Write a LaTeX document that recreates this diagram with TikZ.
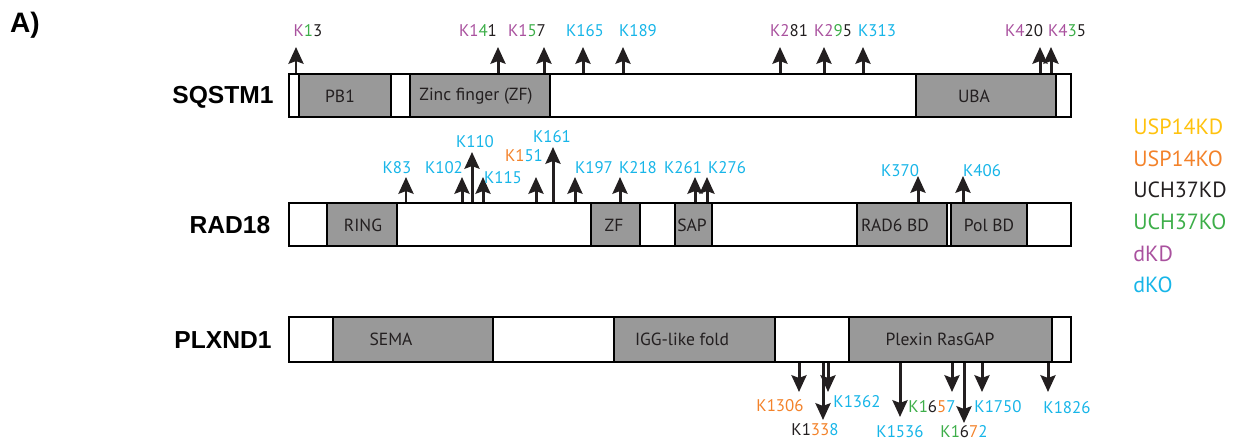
\documentclass[tikz,border=0pt]{standalone}
\usepackage{fontspec}
\setmainfont{PT Sans}
\newfontfamily\genefont{Liberation Sans}
\usepackage{tikz}
\usetikzlibrary{arrows.meta,fit}

\definecolor{ukd}{HTML}{FFC20E}
\definecolor{uko}{HTML}{F3822A}
\definecolor{ckd}{HTML}{231F20}
\definecolor{cko}{HTML}{3DAE49}
\definecolor{dkd}{HTML}{A9519E}
\definecolor{dko}{HTML}{17B5E8}
\definecolor{domgrey}{HTML}{999999}

\newcommand{\cc}[2]{\textcolor{#1}{#2}}

\begin{document}
\begin{tikzpicture}[
    x=0.02cm, y=-0.02cm,
    bar/.style={draw, line width=1.4pt, fill=white, inner sep=0pt},
    dom/.style={draw, line width=1.2pt, fill=domgrey, inner sep=0pt},
    domlab/.style={font=\fontsize{10}{12}\selectfont, text=ckd, inner sep=0pt},
    gene/.style={font=\genefont\bfseries\fontsize{14}{16}\selectfont, inner sep=0pt},
    site/.style={line width=1.7pt, ckd, -{Stealth[length=9.5pt, width=8.5pt, inset=1.5pt]}},
    klab/.style={font=\fontsize{9.6}{11}\selectfont, text=dko, inner sep=0pt},
    leg/.style={font=\fontsize{12.5}{14}\selectfont, anchor=west, inner sep=0pt}
]
    \useasboundingbox (0,0) rectangle (1240,445);

    \node[font=\genefont\bfseries\fontsize{16}{18}\selectfont] (panel) at (25,25) {A)};

    % SQSTM1
    \node[gene] (gsq) at (223,97) {SQSTM1};
    \node[bar, fit={(289,74) (1071,117)}] (sq) {};
    \node[dom, fit={(299,74) (391,117)}] (pb1) {};
    \node[dom, fit={(410,74) (550,117)}] (zf1) {};
    \node[dom, fit={(916,74) (1056,117)}] (uba) {};
    \node[domlab] at (340,96) {PB1};
    \node[domlab] at (476,96) {Zinc finger (ZF)};
    \node[domlab] at (974,96) {UBA};

    \foreach \n/\x in {13/296, 141/498, 157/544, 165/583, 189/623, 281/780, 295/824, 313/863, 420/1040, 435/1051} {
        \coordinate (q\n) at (\x,47);
        \draw[site] (q\n |- sq.north) -- (q\n);
    }
    \node[klab] (lq13) at (308,31) {\cc{dkd}{K}\cc{cko}{1}\cc{ckd}{3}};
    \node[klab] (lq141) at (478,31) {\cc{dkd}{K1}\cc{cko}{4}\cc{ckd}{1}};
    \node[klab] (lq157) at (527,31) {\cc{dkd}{K1}\cc{cko}{5}\cc{ckd}{7}};
    \node[klab] (lq165) at (585,31) {K165};
    \node[klab] (lq189) at (638,31) {K189};
    \node[klab] (lq281) at (789,31) {\cc{dkd}{K2}\cc{ckd}{81}};
    \node[klab] (lq295) at (833,31) {\cc{dkd}{K2}\cc{cko}{9}\cc{ckd}{5}};
    \node[klab] (lq313) at (877,31) {K313};
    \node[klab] (lq420) at (1024,31) {\cc{dkd}{K4}\cc{ckd}{20}};
    \node[klab] (lq435) at (1067,31) {\cc{dkd}{K4}\cc{cko}{3}\cc{ckd}{5}};

    % RAD18
    \node[gene] (grad) at (230,225) {RAD18};
    \node[bar, fit={(289,203) (1071,246)}] (rad) {};
    \node[dom, fit={(327,203) (397,246)}] (ring) {};
    \node[dom, fit={(591,203) (640,246)}] (zf2) {};
    \node[dom, fit={(675,203) (712,246)}] (sap) {};
    \node[dom, fit={(857,203) (947,246)}] (rad6) {};
    \node[dom, fit={(951,203) (1027,246)}] (pol) {};
    \node[domlab] at (363,225) {RING};
    \node[domlab] at (614,225) {ZF};
    \node[domlab] at (692,225) {SAP};
    \node[domlab] at (895,225) {RAD6 BD};
    \node[domlab] at (989,225) {Pol BD};

    \foreach \n/\x/\y in {83/406/177, 102/462/177, 110/472/152, 115/483/177, 151/536/177, 161/553/147, 197/575/177, 218/620/177, 261/695/177, 276/707/177, 370/918/176, 406/963/176} {
        \coordinate (r\n) at (\x,\y);
        \draw[site] (r\n |- rad.north) -- (r\n);
    }
    \node[klab] (lr83) at (397,168) {K83};
    \node[klab] (lr102) at (444,168) {K102};
    \node[klab] (lr110) at (475,142) {K110};
    \node[klab] (lr115) at (503,178) {K115};
    \node[klab] (lr151) at (524,156) {\cc{uko}{K1}51};
    \node[klab] (lr161) at (552,137) {K161};
    \node[klab] (lr197) at (594,168) {K197};
    \node[klab] (lr218) at (638,168) {K218};
    \node[klab] (lr261) at (683,168) {K261};
    \node[klab] (lr276) at (727,168) {K276};
    \node[klab] (lr370) at (900,171) {K370};
    \node[klab] (lr406) at (982,171) {K406};

    % PLXND1
    \node[gene] (gplx) at (223,340) {PLXND1};
    \node[bar, fit={(289,317) (1071,362)}] (plx) {};
    \node[dom, fit={(333,317) (493,362)}] (sema) {};
    \node[dom, fit={(614,317) (775,362)}] (igg) {};
    \node[dom, fit={(849,317) (1052,362)}] (gap) {};
    \node[domlab] at (391,339) {SEMA};
    \node[domlab] at (682,339) {IGG-like fold};
    \node[domlab] at (940,339) {Plexin RasGAP};

    \foreach \n/\x/\y in {1306/799/392, 1338/823/420, 1362/828/392, 1536/900/417, 1657/952/392, 1672/964/423, 1750/982/392, 1826/1048/392} {
        \coordinate (p\n) at (\x,\y);
        \draw[site] (p\n |- plx.south) -- (p\n);
    }
    \node[klab] (lp1306) at (780,406) {\cc{uko}{K1306}};
    \node[klab] (lp1338) at (815,430) {\cc{ckd}{K1}\cc{uko}{33}8};
    \node[klab] (lp1362) at (857,402) {K1362};
    \node[klab] (lp1536) at (900,432) {K1536};
    \node[klab] (lp1657) at (932,407) {\cc{cko}{K1}\cc{ckd}{6}\cc{uko}{5}7};
    \node[klab] (lp1672) at (964,432) {\cc{cko}{K1}\cc{ckd}{6}\cc{uko}{7}2};
    \node[klab] (lp1750) at (998,407) {K1750};
    \node[klab] (lp1826) at (1067,408) {K1826};

    % legend
    \node[leg, text=ukd] (lukd) at (1133,127) {USP14KD};
    \node[leg, text=uko] (luko) at (1133,158.6) {USP14KO};
    \node[leg, text=ckd] (lckd) at (1133,190) {UCH37KD};
    \node[leg, text=cko] (lcko) at (1133,221.8) {UCH37KO};
    \node[leg, text=dkd] (ldkd) at (1133,253.4) {dKD};
    \node[leg, text=dko] (ldko) at (1133,285) {dKO};
\end{tikzpicture}
\end{document}
